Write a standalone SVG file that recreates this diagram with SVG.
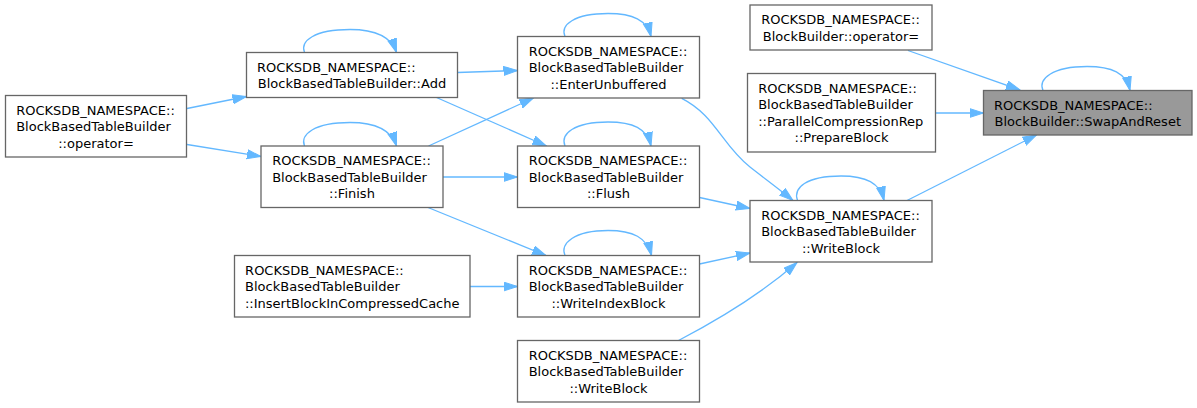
<svg xmlns="http://www.w3.org/2000/svg" width="1197" height="408" viewBox="0 0 1197 408">
<style>
.n rect{fill:#ffffff;stroke:#666666;stroke-width:1.3}
.n.cur rect{fill:#999999}
.n text{font-family:"DejaVu Sans",sans-serif;font-size:13px;fill:#000000}
.m{text-anchor:middle}
.e path{fill:none;stroke:#63b8ff;stroke-width:1.3;marker-end:url(#ah)}
</style>
<defs>
<marker id="ah" markerUnits="userSpaceOnUse" markerWidth="15" markerHeight="11" refX="14" refY="5" orient="auto" viewBox="0 0 15 11">
<path d="M0,0.5 L14,5 L0,9.5 z" fill="#63b8ff" stroke="#63b8ff" stroke-width="1"/>
</marker>
</defs>
<rect x="0" y="0" width="1197" height="408" fill="#ffffff"/>
<g id="edges" class="e">
<path d="M908,50.5 L1020,90"/>
<path d="M935.5,113 L983.5,113"/>
<path d="M907,200.5 L1036.5,135"/>
<path d="M1043,90.5 C1038,79 1052,66.5 1087,66.5 C1112,66.5 1126,73 1130,90.5"/>
<path d="M797.5,200.5 C793,188 806,176 841,176 C866,176 880,183 884,200.5"/>
<path d="M565,36.5 C560,25 574,13.5 608,13.5 C633,13.5 647,20 651,36.5"/>
<path d="M565,146 C560,134 574,122 608,122 C633,122 647,128.5 651,146"/>
<path d="M304.5,52.5 C300,41 314,29.5 350,29.5 C375,29.5 391,36 396.5,52.5"/>
<path d="M304.5,146 C300,134.5 314,122.5 350,122.5 C375,122.5 391,129 396.5,146"/>
<path d="M565,255.5 C560,243.5 574,230.5 608,230.5 C633,230.5 647,237.5 651.5,255.5"/>
<path d="M681.7,98.3 C715,115 722,145 750,167 C764,178 779,189 793,200.5"/>
<path d="M699.5,197.5 L750,208.5"/>
<path d="M699.5,264 L750,253"/>
<path d="M678.5,340.5 C712,323 760,295 797,262.5"/>
<path d="M457.5,72.5 L517.5,70.5"/>
<path d="M436.5,97.5 L546.5,146"/>
<path d="M428.5,146 L533.5,98"/>
<path d="M443,177 L517.5,177"/>
<path d="M428,207.5 L546,255.5"/>
<path d="M470,286.5 L517.5,286.5"/>
<path d="M187,108.5 L246.5,96.5"/>
<path d="M187,144.5 L261,156.5"/>
</g>
<g id="node_swapandreset" class="n cur">
<rect x="983.5" y="90.5" width="208.5" height="44.5"/>
<text x="994" y="109.5">ROCKSDB_NAMESPACE::</text>
<text x="1087.75" y="126" class="m">BlockBuilder::SwapAndReset</text>
</g>
<g id="node_bb_operator" class="n">
<rect x="750" y="5" width="182" height="45"/>
<text x="761.2" y="24">ROCKSDB_NAMESPACE::</text>
<text x="841" y="40.5" class="m">BlockBuilder::operator=</text>
</g>
<g id="node_prepareblock" class="n">
<rect x="747.5" y="73.5" width="188" height="78.5"/>
<text x="758.2" y="92.5">ROCKSDB_NAMESPACE::</text>
<text x="758.2" y="109">BlockBasedTableBuilder</text>
<text x="758.2" y="125.5">::ParallelCompressionRep</text>
<text x="841.5" y="142" class="m">::PrepareBlock</text>
</g>
<g id="node_writeblock_mid" class="n">
<rect x="750" y="200.5" width="182" height="61.5"/>
<text x="761.2" y="219.5">ROCKSDB_NAMESPACE::</text>
<text x="761.2" y="236">BlockBasedTableBuilder</text>
<text x="841" y="252.5" class="m">::WriteBlock</text>
</g>
<g id="node_enterunbuffered" class="n">
<rect x="517.5" y="36.5" width="182" height="61.5"/>
<text x="528.7" y="55.5">ROCKSDB_NAMESPACE::</text>
<text x="528.7" y="72">BlockBasedTableBuilder</text>
<text x="608.5" y="88.5" class="m">::EnterUnbuffered</text>
</g>
<g id="node_flush" class="n">
<rect x="517.5" y="146" width="182" height="61.5"/>
<text x="528.7" y="165">ROCKSDB_NAMESPACE::</text>
<text x="528.7" y="181.5">BlockBasedTableBuilder</text>
<text x="608.5" y="198" class="m">::Flush</text>
</g>
<g id="node_writeindexblock" class="n">
<rect x="517.5" y="255.5" width="182" height="61.5"/>
<text x="528.7" y="274.5">ROCKSDB_NAMESPACE::</text>
<text x="528.7" y="291">BlockBasedTableBuilder</text>
<text x="608.5" y="307.5" class="m">::WriteIndexBlock</text>
</g>
<g id="node_writeblock_bottom" class="n">
<rect x="517.5" y="340.5" width="182" height="61.5"/>
<text x="528.7" y="359.5">ROCKSDB_NAMESPACE::</text>
<text x="528.7" y="376">BlockBasedTableBuilder</text>
<text x="608.5" y="392.5" class="m">::WriteBlock</text>
</g>
<g id="node_add" class="n">
<rect x="246.5" y="52.5" width="211" height="45"/>
<text x="257" y="71.5">ROCKSDB_NAMESPACE::</text>
<text x="352" y="88" class="m">BlockBasedTableBuilder::Add</text>
</g>
<g id="node_finish" class="n">
<rect x="261" y="146" width="182" height="61.5"/>
<text x="272.2" y="165">ROCKSDB_NAMESPACE::</text>
<text x="272.2" y="181.5">BlockBasedTableBuilder</text>
<text x="352" y="198" class="m">::Finish</text>
</g>
<g id="node_insertblock" class="n">
<rect x="234.5" y="255.5" width="235.5" height="61.5"/>
<text x="245.1" y="274.5">ROCKSDB_NAMESPACE::</text>
<text x="245.1" y="291">BlockBasedTableBuilder</text>
<text x="352.25" y="307.5" class="m">::InsertBlockInCompressedCache</text>
</g>
<g id="node_operator_left" class="n">
<rect x="5.5" y="95.5" width="181" height="61.5"/>
<text x="16.2" y="114.5">ROCKSDB_NAMESPACE::</text>
<text x="16.2" y="131">BlockBasedTableBuilder</text>
<text x="96" y="147.5" class="m">::operator=</text>
</g>
</svg>
